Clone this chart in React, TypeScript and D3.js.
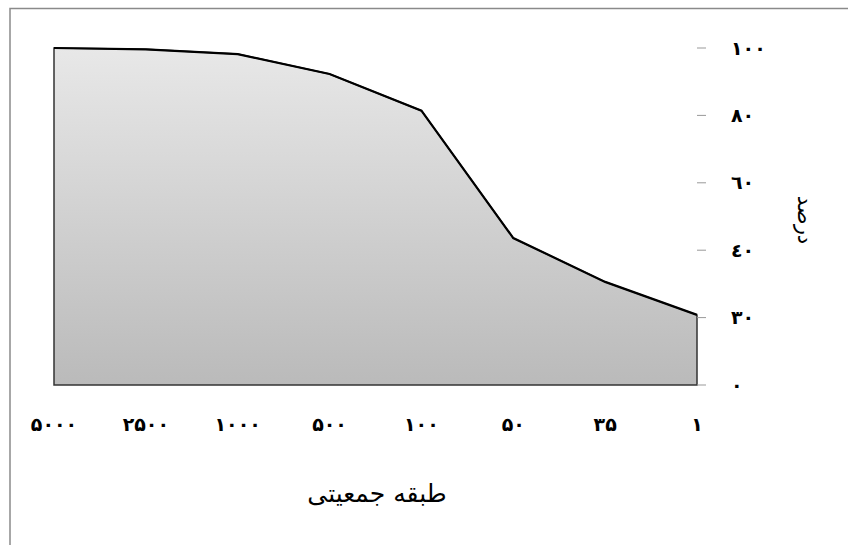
import React from 'react';
import * as d3 from 'd3';

// population class (right to left in the picture)
const CLASSES = ['۵۰۰۰', '۲۵۰۰', '۱۰۰۰', '۵۰۰', '۱۰۰', '۵۰', '۳۵', '۱'];
const PERCENT = [100, 99.6, 98.2, 92.3, 81.4, 43.6, 30.6, 20.8];
const Y_TICKS = [0, 20, 40, 60, 80, 100];
const Y_TICK_LABELS = ['٠', '۳٠', '٤٠', '٦٠', '٨٠', '۱٠٠'];

const WIDTH = 848;
const HEIGHT = 545;
const margin = { top: 48, right: 151, bottom: 160, left: 54 };

const App = () => {
  const chartW = WIDTH - margin.left - margin.right;
  const chartH = HEIGHT - margin.top - margin.bottom;

  const x = d3.scalePoint<string>().domain(CLASSES).range([0, chartW]);
  const y = d3.scaleLinear().domain([0, 100]).range([chartH, 0]);

  const data = CLASSES.map((c, i) => ({ c, v: PERCENT[i] }));

  const area = d3.area<{ c: string; v: number }>()
    .x(d => x(d.c) as number)
    .y0(y(0))
    .y1(d => y(d.v));

  const line = d3.line<{ c: string; v: number }>()
    .x(d => x(d.c) as number)
    .y(d => y(d.v));

  const labelFont = '"DejaVu Sans", sans-serif';

  return (
    <svg width={WIDTH} height={HEIGHT}
      style={{ position: 'absolute', left: 0, top: 0, background: '#fff' }}>
      <defs>
        <linearGradient id="fillGrad" x1="0" y1="0" x2="0" y2="1">
          <stop offset="0%" stopColor="#e8e8e8" />
          <stop offset="100%" stopColor="#bababa" />
        </linearGradient>
      </defs>

      {/* outer frame */}
      <rect x={10} y={8.5} width={WIDTH + 20} height={HEIGHT + 20}
        fill="none" stroke="#8a8a8a" strokeWidth={1.5} />

      <g transform={`translate(${margin.left},${margin.top})`}>
        <path d={area(data) ?? ''} fill="url(#fillGrad)" stroke="#333" strokeWidth={1.5} />
        <path d={line(data) ?? ''} fill="none" stroke="#000" strokeWidth={2.2} />

        {/* right axis: ticks only */}
        {Y_TICKS.map((t, i) => (
          <g key={t} transform={`translate(${chartW},${y(t)})`}>
            <line x1={0} x2={9} stroke="#999" strokeWidth={1} />
            <text x={34} dy="0.35em" textAnchor="start" fontFamily={labelFont}
              fontWeight="bold" fontSize={19} letterSpacing={-1.5} fill="#000">
              {Y_TICK_LABELS[i]}
            </text>
          </g>
        ))}

        {/* bottom category labels */}
        {CLASSES.map(c => (
          <text key={c} x={x(c) as number} y={chartH + 39} dy="0.35em"
            textAnchor="middle" fontFamily={labelFont} fontWeight="bold"
            fontSize={19} letterSpacing={-2} fill="#000">
            {c}
          </text>
        ))}

        <text x={323} y={chartH + 108} dy="0.35em" textAnchor="middle"
          fontFamily={labelFont} fontSize={25} fill="#000">
          طبقه جمعیتی
        </text>

        <text transform={`translate(${chartW + 108},${172}) rotate(90)`}
          dy="0.35em" textAnchor="middle" fontFamily={labelFont}
          fontSize={21} fill="#000">
          درصد
        </text>
      </g>
    </svg>
  );
};

export default App;
